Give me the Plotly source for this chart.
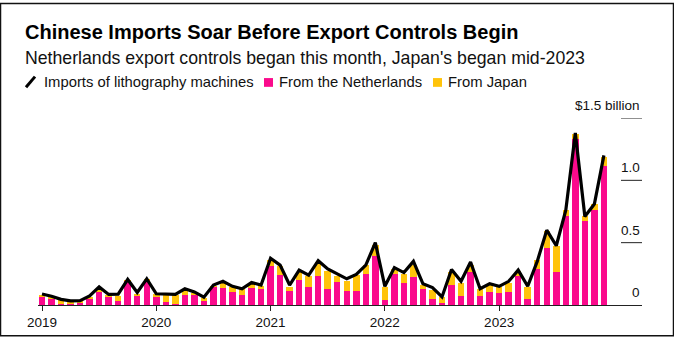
import plotly.graph_objects as go

# ---- data (US$ billion, monthly) ----
years = [2019, 2020, 2021, 2022, 2023]
months = [f"{y}-{m:02d}" for y in years for m in range(1, 13)]

total_imports = [
    0.088, 0.070, 0.045, 0.033, 0.035, 0.072, 0.145, 0.085, 0.087, 0.205, 0.100, 0.210,
    0.090, 0.085, 0.085, 0.130, 0.105, 0.063, 0.160, 0.190, 0.150, 0.130, 0.180, 0.160,
    0.375, 0.320, 0.160, 0.280, 0.240, 0.355, 0.290, 0.250, 0.210, 0.245, 0.320, 0.500,
    0.150, 0.300, 0.260, 0.350, 0.170, 0.140, 0.065, 0.285, 0.190, 0.345, 0.130, 0.170,
    0.150, 0.190, 0.280, 0.150, 0.350, 0.600, 0.475, 0.760, 1.380, 0.710, 0.810, 1.200,
]
from_netherlands = [
    0.062, 0.053, 0.012, 0.010, 0.020, 0.056, 0.103, 0.062, 0.030, 0.195, 0.070, 0.195,
    0.064, 0.022, 0.008, 0.082, 0.087, 0.030, 0.145, 0.140, 0.103, 0.077, 0.140, 0.130,
    0.310, 0.240, 0.116, 0.200, 0.147, 0.233, 0.129, 0.186, 0.116, 0.116, 0.250, 0.390,
    0.043, 0.246, 0.173, 0.223, 0.129, 0.050, 0.017, 0.160, 0.069, 0.264, 0.069, 0.108,
    0.100, 0.108, 0.230, 0.048, 0.285, 0.455, 0.264, 0.712, 1.332, 0.676, 0.764, 1.116,
]
from_japan = [
    0.020, 0.013, 0.026, 0.018, 0.010, 0.012, 0.027, 0.018, 0.045, 0.005, 0.022, 0.008,
    0.023, 0.055, 0.069, 0.043, 0.008, 0.030, 0.005, 0.050, 0.040, 0.051, 0.032, 0.020,
    0.055, 0.070, 0.031, 0.068, 0.086, 0.112, 0.141, 0.047, 0.074, 0.127, 0.070, 0.095,
    0.099, 0.042, 0.077, 0.097, 0.030, 0.070, 0.044, 0.103, 0.104, 0.056, 0.057, 0.051,
    0.045, 0.070, 0.040, 0.099, 0.075, 0.135, 0.211, 0.048, 0.043, 0.037, 0.046, 0.074,
]
year_ticks = [f"{y}-01" for y in years]
year_labels = [str(y) for y in years]
y_ticks = [0, 0.5, 1.0, 1.5]
y_labels = ["0", "0.5", "1.0", "$1.5 billion"]

PINK = "#FA0A8C"
YELLOW = "#FFC30A"
FONT = "Liberation Sans, Arial, sans-serif"

W, H = 674, 342
ML, MR, MT, MB = 38, 32, 118, 32
PW, PH = W - ML - MR, H - MT - MB


def px(x):
    return (x - ML) / PW


def py(y):
    return (H - MB - y) / PH


fig = go.Figure()
fig.add_trace(go.Bar(x=months, y=from_netherlands, marker=dict(color=PINK, line_width=0),
                     name="From the Netherlands", showlegend=False))
fig.add_trace(go.Bar(x=months, y=from_japan, marker=dict(color=YELLOW, line_width=0),
                     name="From Japan", showlegend=False))
fig.add_trace(go.Scatter(x=months, y=total_imports, mode="lines",
                         line=dict(color="black", width=3.2),
                         name="Imports of lithography machines", showlegend=False))

annotations = []
shapes = []

# title, subtitle
annotations.append(dict(text="<b>Chinese Imports Soar Before Export Controls Begin</b>",
                        xref="paper", yref="paper", x=px(23), y=py(29.5),
                        xanchor="left", yanchor="middle", showarrow=False,
                        font=dict(family=FONT, size=20, color="#000")))
annotations.append(dict(text="Netherlands export controls began this month, Japan's began mid-2023",
                        xref="paper", yref="paper", x=px(23), y=py(56),
                        xanchor="left", yanchor="middle", showarrow=False,
                        font=dict(family=FONT, size=17.7, color="#111")))

# custom legend
shapes.append(dict(type="line", xref="paper", yref="paper",
                   x0=px(26), y0=py(86.5), x1=px(35), y1=py(75.5),
                   line=dict(color="black", width=3)))
annotations.append(dict(text="Imports of lithography machines", xref="paper", yref="paper",
                        x=px(42), y=py(81), xanchor="left", yanchor="middle", showarrow=False,
                        font=dict(family=FONT, size=14.8, color="#111")))
for x0, col, label, tx in [(264, PINK, "From the Netherlands", 277),
                           (433, YELLOW, "From Japan", 446)]:
    shapes.append(dict(type="rect", xref="paper", yref="paper",
                       x0=px(x0), x1=px(x0 + 9), y0=py(86), y1=py(77),
                       fillcolor=col, line_width=0))
    annotations.append(dict(text=label, xref="paper", yref="paper",
                            x=px(tx), y=py(81), xanchor="left", yanchor="middle", showarrow=False,
                            font=dict(family=FONT, size=14.8, color="#111")))

# right-side y labels with short tick lines
for v, lab in zip(y_ticks, y_labels):
    annotations.append(dict(text=lab, xref="paper", yref="y", x=px(642), y=v,
                            xanchor="right", yanchor="bottom", yshift=3, showarrow=False,
                            font=dict(family=FONT, size=13.5, color="#111")))
    if v > 0:
        shapes.append(dict(type="line", xref="paper", yref="y", x0=px(621), x1=1,
                           y0=v, y1=v, line=dict(color="#222", width=1)))

# outer frame
shapes.append(dict(type="rect", xref="paper", yref="paper",
                   x0=px(0.5), x1=px(W - 0.5), y0=py(H - 0.5), y1=py(0.5),
                   line=dict(color="#111", width=1.5), fillcolor="rgba(0,0,0,0)",
                   layer="above"))

fig.update_layout(
    width=W, height=H,
    margin=dict(l=ML, r=MR, t=MT, b=MB),
    paper_bgcolor="white", plot_bgcolor="white",
    barmode="stack", bargap=0.32,
    showlegend=False,
    annotations=annotations, shapes=shapes,
    xaxis=dict(type="category", range=[-0.42, 63.0],
               tickvals=year_ticks, ticktext=year_labels,
               showgrid=False, zeroline=False,
               showline=True, linecolor="#222", linewidth=1,
               ticks="outside", ticklen=5, tickcolor="#222",
               tickfont=dict(family=FONT, size=13.5, color="#111")),
    yaxis=dict(range=[0, 1.5], showgrid=False, zeroline=False,
               showticklabels=False, fixedrange=True),
)

fig.write_html("out.html")
